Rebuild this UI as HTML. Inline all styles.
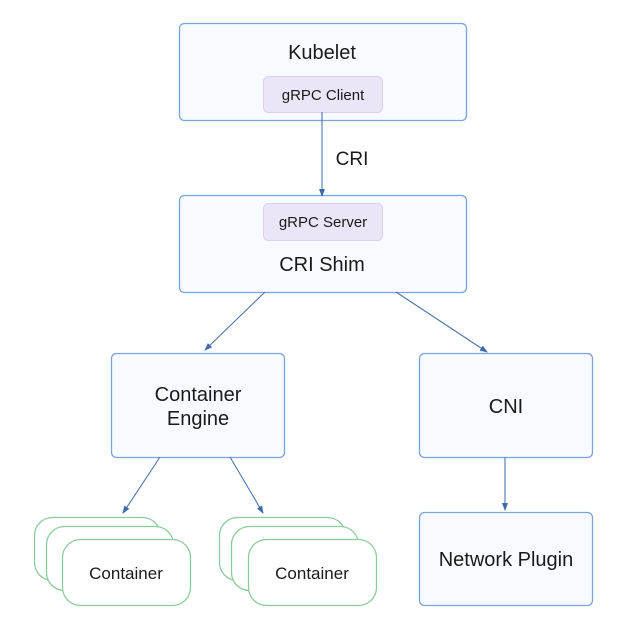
<!DOCTYPE html>
<html><head><style>
body{margin:0;background:#fff;}
svg{display:block;font-family:"Liberation Sans",sans-serif;}
</style></head><body>
<svg width="618" height="632" viewBox="0 0 618 632">
<defs><marker id="a" markerWidth="8" markerHeight="8" refX="7" refY="4" orient="auto" markerUnits="userSpaceOnUse"><path d="M0,1 L8,4 L0,7 z" fill="#3d6aa8"/></marker></defs>
<g fill="#f7fbff" stroke="#7aa3dd" stroke-width="1.3">
<rect x="179.5" y="23.5" width="287" height="97" rx="5"/>
<rect x="179.5" y="195.5" width="287" height="97" rx="5"/>
<rect x="111.5" y="353.5" width="173" height="104" rx="5"/>
<rect x="419.5" y="353.5" width="173" height="104" rx="5"/>
<rect x="419.5" y="512.5" width="173" height="93" rx="5"/>
</g>
<g fill="#ebe6f7" stroke="#d9cff0" stroke-width="1">
<rect x="263.5" y="76.5" width="119" height="36" rx="5"/>
<rect x="263.5" y="203.5" width="119" height="37" rx="5"/>
</g>
<g fill="#fff" stroke="#8ccb9c" stroke-width="1.3">
<rect x="34.5" y="517.5" width="126" height="63" rx="18"/>
<rect x="46.5" y="526.5" width="127" height="64" rx="18"/>
<rect x="62.5" y="539.5" width="128" height="66" rx="18"/>
<rect x="219.5" y="517.5" width="126" height="63" rx="18"/>
<rect x="231.5" y="526.5" width="127" height="64" rx="18"/>
<rect x="248.5" y="539.5" width="128" height="66" rx="18"/>
</g>
<g stroke="#4a75b0" stroke-width="1.1" marker-end="url(#a)">
<line x1="322" y1="112" x2="322" y2="196"/>
<line x1="265" y1="292" x2="205" y2="350"/>
<line x1="396" y1="292" x2="487" y2="352"/>
<line x1="160" y1="457" x2="123" y2="513"/>
<line x1="230" y1="457" x2="263" y2="513"/>
<line x1="505" y1="457" x2="505" y2="510"/>
</g>
<g fill="#1a1a1a" text-anchor="middle">
<text x="322" y="59" font-size="20">Kubelet</text>
<text x="323" y="100" font-size="15">gRPC Client</text>
<text x="352" y="165" font-size="19">CRI</text>
<text x="323" y="227" font-size="15">gRPC Server</text>
<text x="322" y="271" font-size="20">CRI Shim</text>
<text x="198" y="401" font-size="20">Container</text>
<text x="198" y="425" font-size="20">Engine</text>
<text x="506" y="413" font-size="20">CNI</text>
<text x="506" y="566" font-size="20">Network Plugin</text>
<text x="126" y="579" font-size="17">Container</text>
<text x="312" y="579" font-size="17">Container</text>
</g>
</svg>
</body></html>
